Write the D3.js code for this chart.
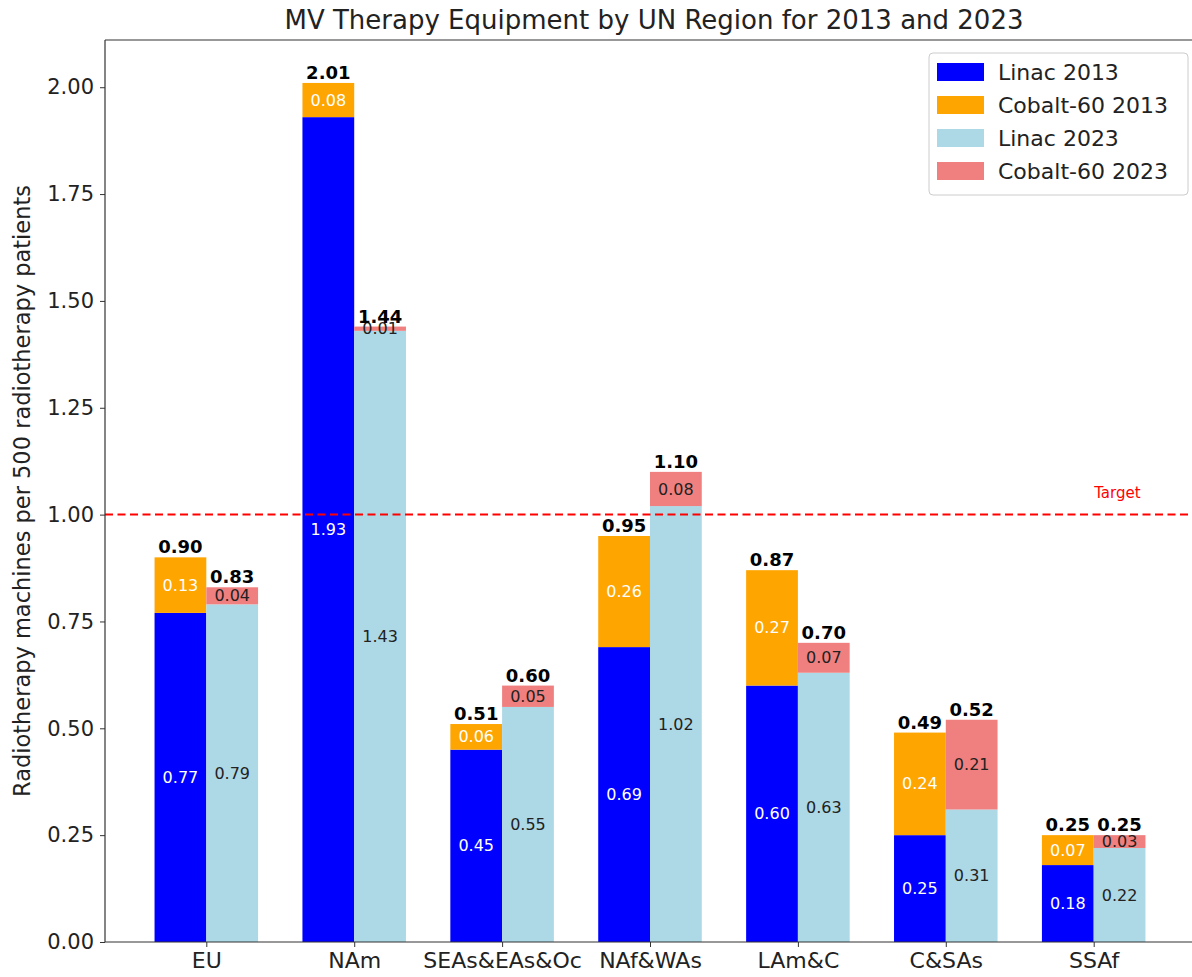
<!DOCTYPE html>
<html><head><meta charset="utf-8">
<script src="https://cdn.jsdelivr.net/npm/d3@7"></script>
<style>body{margin:0;background:#fff;} text{font-family:"DejaVu Sans",sans-serif;}</style>
</head><body>
<svg id="chart" width="1192" height="977"></svg>
<script>
const regions = ["EU","NAm","SEAs&EAs&Oc","NAf&WAs","LAm&C","C&SAs","SSAf"];
const linac2013 = [0.77,1.93,0.45,0.69,0.60,0.25,0.18];
const cobalt2013 = [0.13,0.08,0.06,0.26,0.27,0.24,0.07];
const linac2023 = [0.79,1.43,0.55,1.02,0.63,0.31,0.22];
const cobalt2023 = [0.04,0.01,0.05,0.08,0.07,0.21,0.03];
const total2013 = [0.90,2.01,0.51,0.95,0.87,0.49,0.25];
const total2023 = [0.83,1.44,0.60,1.10,0.70,0.52,0.25];
const yTicks = [0,0.25,0.5,0.75,1.0,1.25,1.5,1.75,2.0];
const target = 1.0;

const svg = d3.select("#chart");
const L=105, R=1195, T=40, B=942;
const x = d3.scaleLinear().domain([-0.685, 6.685]).range([L,R]);
const y = d3.scaleLinear().domain([0, 2.1105]).range([B,T]);
const bw = 0.35;
const colors = {l13:"#0000ff", c13:"#ffa500", l23:"#add8e6", c23:"#f08080"};

const g = svg.append("g");
regions.forEach((r,i)=>{
  const segs = [
    {x0:i-bw, y0:0, v:linac2013[i], c:colors.l13, tc:"#fff"},
    {x0:i-bw, y0:linac2013[i], v:cobalt2013[i], c:colors.c13, tc:"#fff"},
    {x0:i, y0:0, v:linac2023[i], c:colors.l23, tc:"#222"},
    {x0:i, y0:linac2023[i], v:cobalt2023[i], c:colors.c23, tc:"#222"}
  ];
  segs.forEach(s=>{
    g.append("rect").attr("x",x(s.x0)).attr("width",x(s.x0+bw)-x(s.x0))
     .attr("y",y(s.y0+s.v)).attr("height",y(s.y0)-y(s.y0+s.v)).attr("fill",s.c);
  });
  segs.forEach(s=>{
    g.append("text").attr("x",x(s.x0+bw/2)).attr("y",y(s.y0+s.v/2)).attr("dy","0.35em")
     .attr("text-anchor","middle").attr("font-size",16).attr("fill",s.tc).text(s.v.toFixed(2));
  });
  [[i-bw/2,total2013[i]],[i+bw/2,total2023[i]]].forEach(([cx,t])=>{
    g.append("text").attr("x",x(cx)).attr("y",y(t)-4).attr("text-anchor","middle")
     .attr("font-size",18).attr("font-weight","bold").attr("fill","#000").text(t.toFixed(2));
  });
});

// target line
svg.append("line").attr("x1",L).attr("x2",R).attr("y1",y(target)).attr("y2",y(target))
  .attr("stroke","#ff0000").attr("stroke-width",2).attr("stroke-dasharray","8,4.5");
svg.append("text").attr("x",x(6.16)).attr("y",y(1.05)).attr("dy","0.35em").attr("text-anchor","middle")
  .attr("font-size",15).attr("fill","#ff0000").text("Target");

// axes
const xAxis = d3.axisBottom(x).tickValues(d3.range(regions.length)).tickFormat(i=>regions[i]).tickSize(5).tickPadding(5);
const yAxis = d3.axisLeft(y).tickValues(yTicks).tickFormat(d3.format(".2f")).tickSize(5).tickPadding(6);
const gx = svg.append("g").attr("transform",`translate(0,${B})`).call(xAxis);
const gy = svg.append("g").attr("transform",`translate(${L},0)`).call(yAxis);
gx.select(".domain").remove(); gy.select(".domain").remove();
gx.selectAll("text").attr("font-size",22).attr("fill","#222").style("font-family","DejaVu Sans");
gy.selectAll("text").attr("font-size",21).attr("fill","#222").style("font-family","DejaVu Sans");
[gx,gy].forEach(a=>a.selectAll("line").attr("stroke","#333"));
svg.append("line").attr("x1",L).attr("x2",L).attr("y1",T).attr("y2",B).attr("stroke","#333").attr("stroke-width",1.2);
svg.append("line").attr("x1",L).attr("x2",R).attr("y1",B).attr("y2",B).attr("stroke","#333").attr("stroke-width",1.2);
svg.append("line").attr("x1",L).attr("x2",R).attr("y1",T).attr("y2",T).attr("stroke","#333").attr("stroke-width",1.2);
svg.append("line").attr("x1",R).attr("x2",R).attr("y1",T).attr("y2",B).attr("stroke","#333").attr("stroke-width",1.2);

svg.append("text").attr("x",(L+R)/2 + 4).attr("y",29).attr("text-anchor","middle").attr("font-size",26).attr("fill","#222")
  .text("MV Therapy Equipment by UN Region for 2013 and 2023");
svg.append("text").attr("transform",`translate(30,${(T+B)/2}) rotate(-90)`).attr("text-anchor","middle")
  .attr("font-size",22.5).attr("fill","#222").text("Radiotherapy machines per 500 radiotherapy patients");

// legend
const legendItems = [["Linac 2013",colors.l13],["Cobalt-60 2013",colors.c13],["Linac 2023",colors.l23],["Cobalt-60 2023",colors.c23]];
const lg = svg.append("g").attr("transform","translate(929,53)");
lg.append("rect").attr("width",259).attr("height",142).attr("rx",4).attr("fill","#fff").attr("fill-opacity",0.8).attr("stroke","#ccc");
legendItems.forEach(([lab,c],k)=>{
  lg.append("rect").attr("x",8).attr("y",10+k*33).attr("width",47).attr("height",18).attr("fill",c);
  lg.append("text").attr("x",69).attr("y",19+k*33).attr("dy","0.35em").attr("font-size",22).attr("fill","#222").text(lab);
});
</script>
</body></html>
